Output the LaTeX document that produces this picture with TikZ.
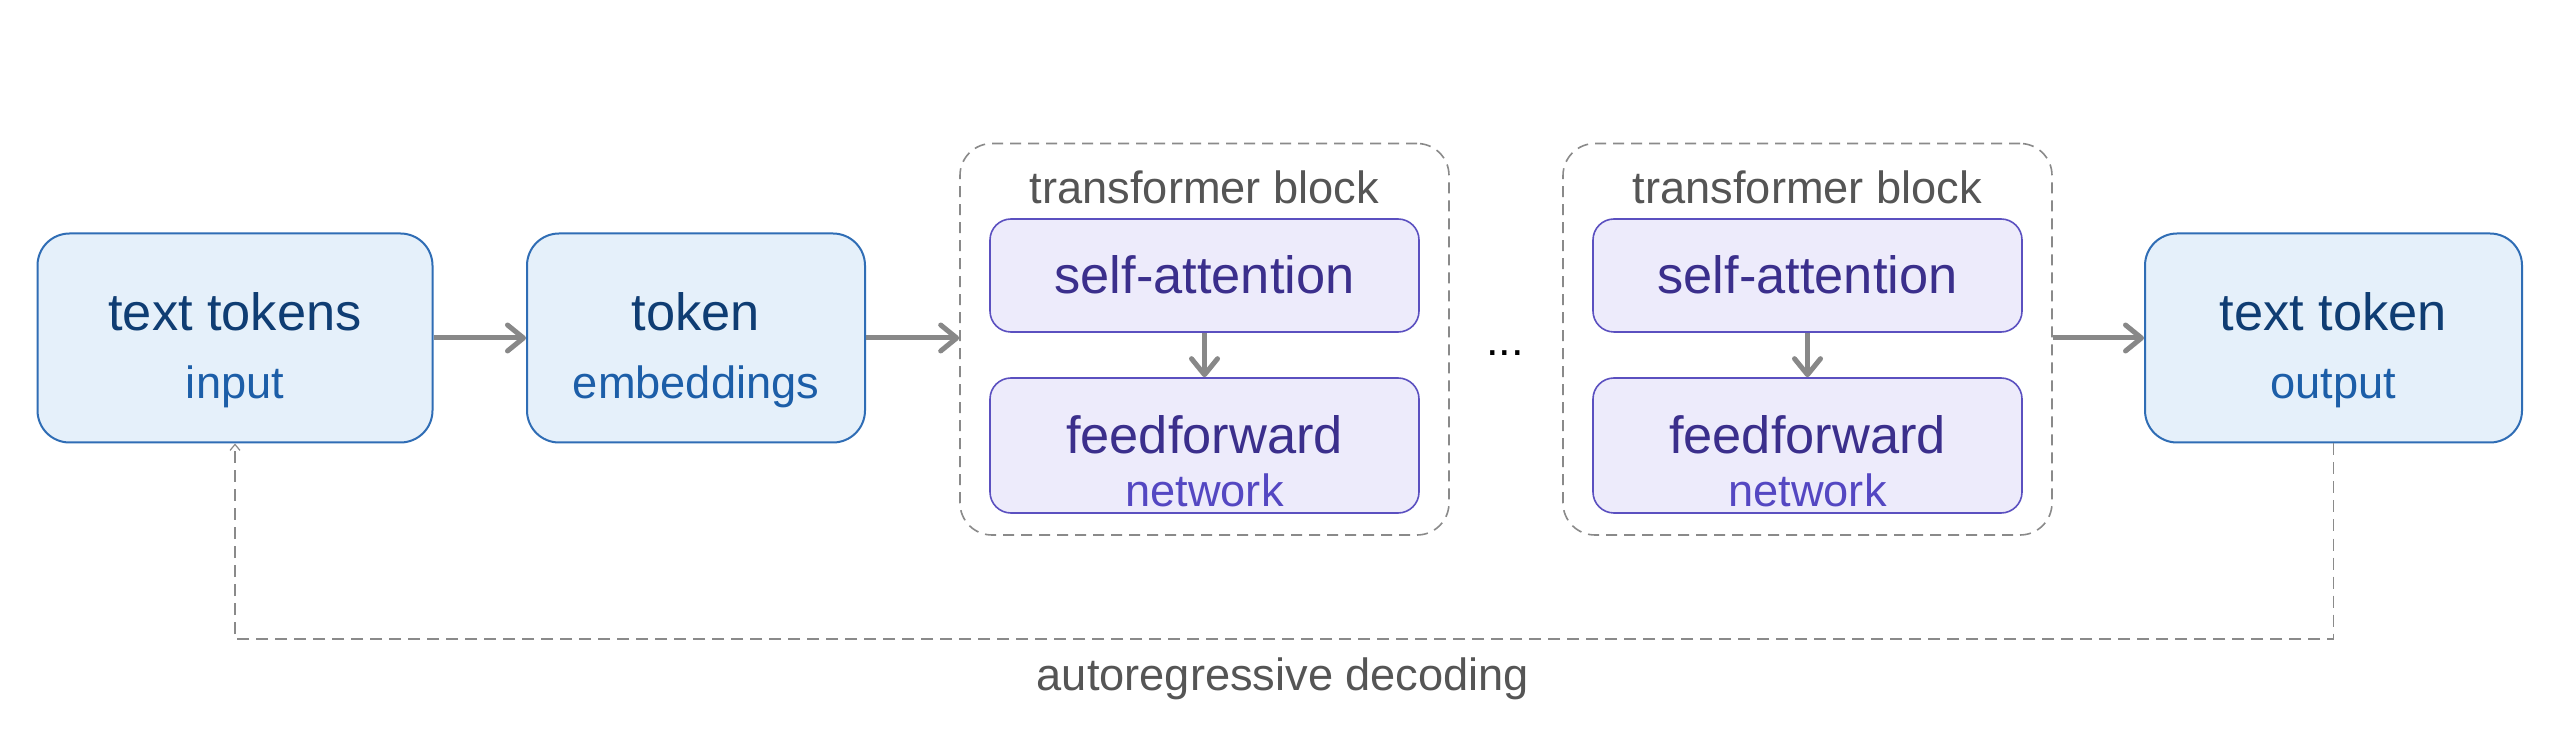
\documentclass[tikz,border=0pt]{standalone}
\usepackage{fontspec}
\setmainfont{Liberation Sans}
\usetikzlibrary{arrows.meta}
\definecolor{bfill}{HTML}{E5F0FA}
\definecolor{bdraw}{HTML}{2F6DB5}
\definecolor{btext}{HTML}{0F3D73}
\definecolor{bsubc}{HTML}{1C5EA8}
\definecolor{pfill}{HTML}{EDEBFB}
\definecolor{pdraw}{HTML}{5B50C0}
\definecolor{ptext}{HTML}{3B2F8C}
\definecolor{psubc}{HTML}{5447C2}
\definecolor{garr}{HTML}{888888}
\definecolor{gdash}{HTML}{8A8A8A}
\definecolor{gtext}{HTML}{555555}
\begin{document}
\begin{tikzpicture}[x=0.5pt,y=-0.5pt,
  bbox/.style={draw=bdraw, fill=bfill, line width=1pt, rounded corners=16pt, minimum height=104.5pt, inner sep=0pt},
  pbox/.style={draw=pdraw, fill=pfill, line width=0.8pt, rounded corners=10.5pt, minimum width=214.5pt, inner sep=0pt},
  blk/.style={draw=gdash, line width=0.8pt, dash pattern=on 5.5pt off 3.5pt, rounded corners=16pt, minimum width=244.5pt, minimum height=195.75pt, inner sep=0pt},
  btitle/.style={anchor=base, inner sep=0pt, text=btext, font=\fontsize{26.2pt}{30pt}\selectfont},
  bsub/.style={anchor=base, inner sep=0pt, text=bsubc, font=\fontsize{22.6pt}{26pt}\selectfont},
  ptitle/.style={anchor=base, inner sep=0pt, text=ptext, font=\fontsize{26.2pt}{30pt}\selectfont},
  psub/.style={anchor=base, inner sep=0pt, text=psubc, font=\fontsize{22.6pt}{26pt}\selectfont},
  glabel/.style={anchor=base, inner sep=0pt, text=gtext, font=\fontsize{22.6pt}{26pt}\selectfont},
  garrow/.style={draw=garr, line width=2.5pt, -{Straight Barb[round, length=8pt, width=13pt]}},
  fbline/.style={draw=gdash, line width=0.6pt, dash pattern=on 6pt off 3.5pt, -{Straight Barb[length=3pt, width=5pt]}}
]
\useasboundingbox[fill=white] (0,0) rectangle (2560,753);

% input box
\node[bbox, minimum width=197.5pt] (inp) at (235,338) {};
\node[btitle] (inpT) at (235,331) {text tokens};
\node[bsub] (inpS) at (235,399) {input};

% embeddings box
\node[bbox, minimum width=169pt] (emb) at (696,338) {};
\node[btitle] (embT) at (696,331) {token};
\node[bsub] (embS) at (696,399) {embeddings};

% transformer block 1
\node[blk] (blk1) at (1204.5,339.25) {};
\node[glabel] (blk1T) at (1204.5,204) {transformer block};
\node[pbox, minimum height=56.5pt] (sa1) at (1204.5,275.5) {};
\node[ptitle] (sa1T) at (1204.5,294) {self-attention};
\node[pbox, minimum height=67.5pt] (ff1) at (1204.5,445.5) {};
\node[ptitle] (ff1T) at (1204.5,454) {feedforward};
\node[psub] (ff1S) at (1204.5,507) {network};

% dots
\node[anchor=base, inner sep=0pt, text=black, font=\fontsize{22.6pt}{26pt}\selectfont] (dots) at (1505,356) {...};

% transformer block 2
\node[blk] (blk2) at (1807.5,339.25) {};
\node[glabel] (blk2T) at (1807.5,204) {transformer block};
\node[pbox, minimum height=56.5pt] (sa2) at (1807.5,275.5) {};
\node[ptitle] (sa2T) at (1807.5,294) {self-attention};
\node[pbox, minimum height=67.5pt] (ff2) at (1807.5,445.5) {};
\node[ptitle] (ff2T) at (1807.5,454) {feedforward};
\node[psub] (ff2S) at (1807.5,507) {network};

% output box
\node[bbox, minimum width=188.5pt] (out) at (2333.5,338) {};
\node[btitle] (outT) at (2333.5,331) {text token};
\node[bsub] (outS) at (2333.5,399) {output};

% arrows
\draw[garrow] (inp.east) -- (emb.west);
\draw[garrow] (emb.east) -- (emb.east -| blk1.west);
\draw[garrow] (sa1.south) -- (ff1.north);
\draw[garrow] (sa2.south) -- (ff2.north);
\draw[garrow] (out.west -| blk2.east) -- (out.west);

% feedback loop
\coordinate (fbR) at (2333.5,639);
\coordinate (fbL) at (235,639);
\draw[fbline] (out.south) -- (fbR) -- (fbL) -- (inp.south);
\node[glabel] (fbT) at (1283,690) {autoregressive decoding};
\end{tikzpicture}
\end{document}
